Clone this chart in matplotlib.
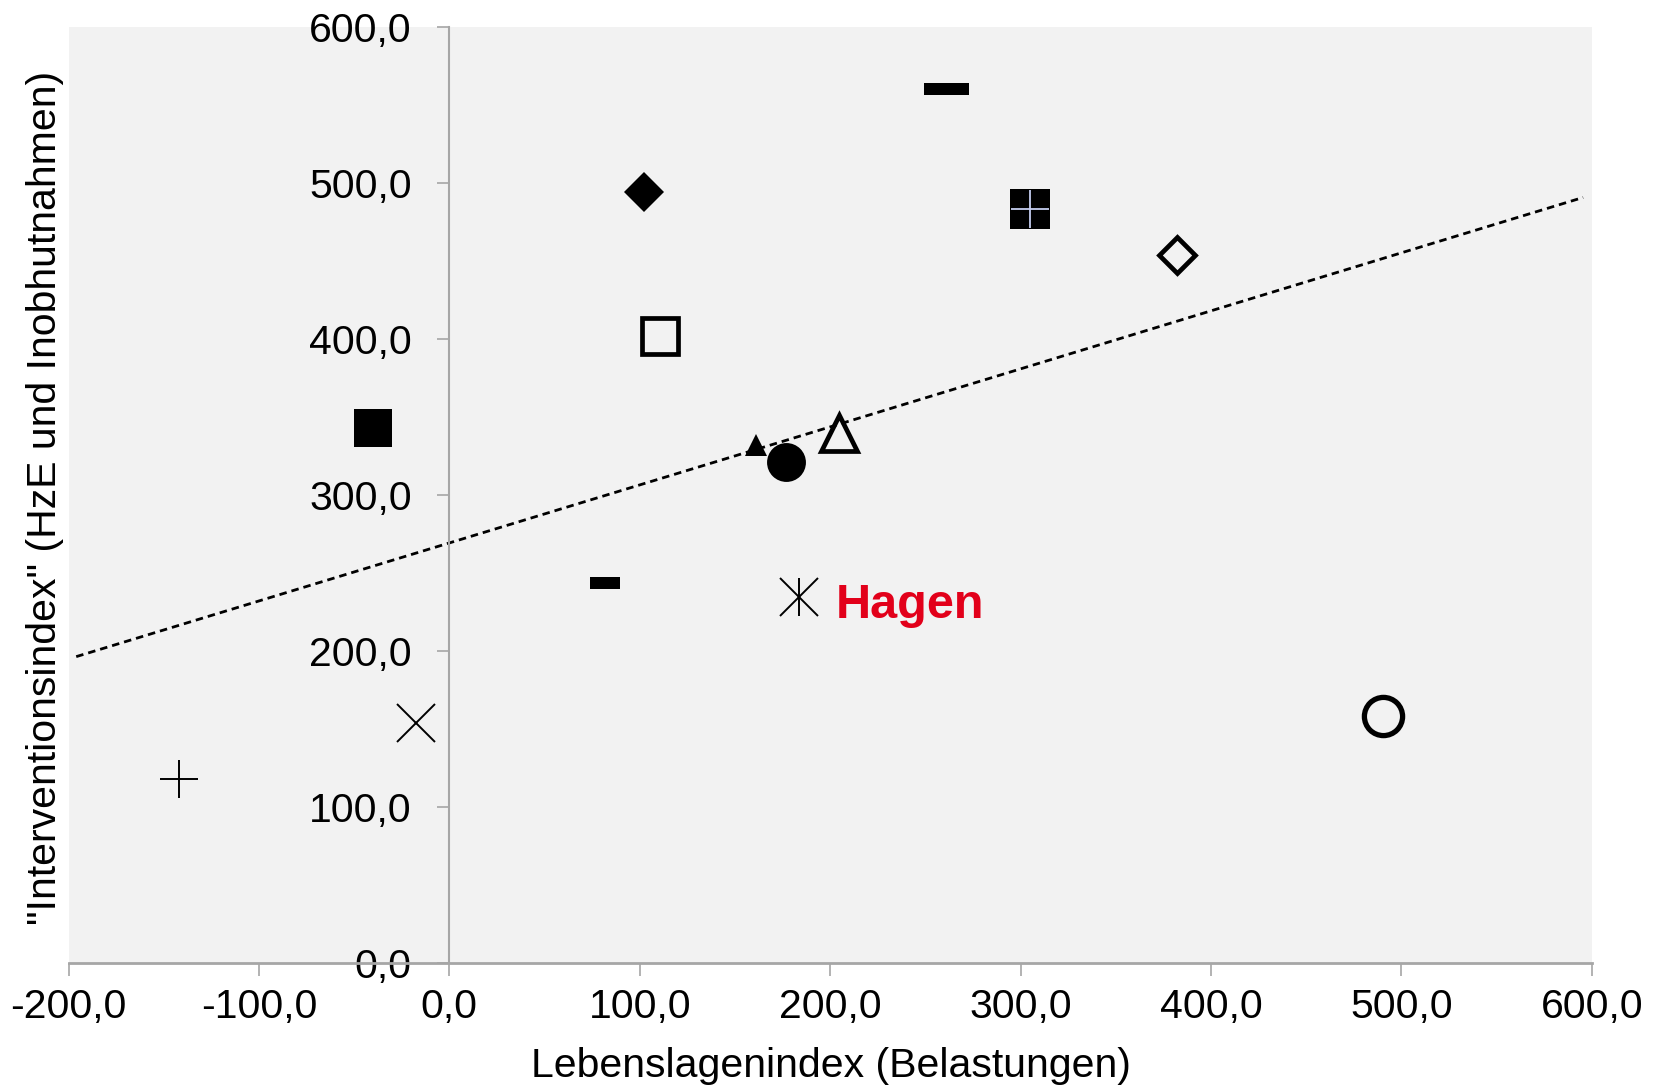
import matplotlib
matplotlib.use("Agg")
import matplotlib.pyplot as plt
import numpy as np

plt.rcParams['font.family'] = ['Liberation Sans', 'DejaVu Sans']

# ---- data ----
city_x = [-142.1, -17.6, -39.9, 81.5, 102.3, 110.5, 160.9, 176.9,
          183.5, 204.8, 260.6, 305.1, 382.0, 490.5]
city_y = [118.1, 154.0, 342.7, 243.8, 494.2, 401.7, 332.4, 321.0,
          234.3, 339.8, 560.7, 483.3, 453.7, 158.4]
highlight_name = "Hagen"
highlight_index = 8

trend_x = [-196.0, 595.5]
trend_y = [196.3, 490.9]

x_ticks = [-200, -100, 0, 100, 200, 300, 400, 500, 600]
y_ticks = [0, 100, 200, 300, 400, 500, 600]
x_label = "Lebenslagenindex (Belastungen)"
y_label = '"Interventionsindex" (HzE und Inobhutnahmen)'

# ---- styles ----
BG = '#f2f2f2'
AX = '#a6a6a6'
RED = '#e2001a'
small_dash = [(-1, -0.43), (1, -0.43), (1, 0.43), (-1, 0.43), (-1, -0.43)]
long_dash = [(-1, -0.27), (1, -0.27), (1, 0.27), (-1, 0.27), (-1, -0.27)]

# each entry: list of (marker, ms, facecolor, edgecolor, edgewidth)
styles = [
    [('+', 27.5, 'k', 'k', 1.4)],
    [('x', 27.5, 'k', 'k', 1.4)],
    [('s', 28, 'k', 'k', 0)],
    [(small_dash, 21.2, 'k', 'k', 0)],
    [('D', 20.4, 'k', 'k', 0)],
    [('s', 26.5, 'none', 'k', 3.4)],
    [('^', 16, 'k', 'k', 0)],
    [('o', 28, 'k', 'k', 0)],
    [('|', 28, 'k', 'k', 1.4), ('x', 28, 'k', 'k', 1.4)],
    [('^', 25.5, 'none', 'k', 3.4)],
    [(long_dash, 32.4, 'k', 'k', 0)],
    [('s', 29.5, 'k', 'k', 0), ('+', 27, '#c5cdf0', '#c5cdf0', 1.3)],
    [('D', 18.0, 'none', 'k', 3.4)],
    [('o', 27.5, 'none', 'k', 3.8)],
]

fig = plt.figure(figsize=(16.55, 10.9), dpi=100)
ax = fig.add_axes([0.04145, 0.11688, 0.92030, 0.85798])
ax.set_facecolor(BG)
ax.set_xlim(-200, 600)
ax.set_ylim(0, 600)

for s in ['top', 'right']:
    ax.spines[s].set_visible(False)
ax.spines['left'].set_position(('data', 0))
for s in ['left', 'bottom']:
    ax.spines[s].set_color(AX)
    ax.spines[s].set_linewidth(1.5)
ax.spines['bottom'].set_linewidth(2.0)

ax.plot(trend_x, trend_y, linestyle=(0, (2.7, 1.8)), color='k', lw=2.0, zorder=2)

for i, (x, y) in enumerate(zip(city_x, city_y)):
    for (m, ms, fc, ec, ew) in styles[i]:
        ax.plot([x], [y], linestyle='none', marker=m, markersize=ms,
                markerfacecolor=fc, markeredgecolor=ec, markeredgewidth=ew,
                zorder=3, clip_on=False)

ax.annotate(highlight_name, (city_x[highlight_index], city_y[highlight_index]),
            xytext=(26.5, -14.5), textcoords='offset points', ha='left', va='baseline',
            color=RED, fontsize=35, fontweight='bold')

def fmt(v):
    return f"{v:.1f}".replace('.', ',')

ax.set_xticks(x_ticks)
ax.set_xticklabels([fmt(v) for v in x_ticks])
ax.set_yticks(y_ticks)
ax.set_yticklabels([fmt(v) for v in y_ticks])
ax.tick_params(axis='x', direction='out', length=9.5, width=1.2, color=AX,
               labelsize=29.5, pad=9, labelcolor='k')
ax.tick_params(axis='y', direction='out', length=9, width=1.2, color=AX,
               labelsize=29.5, pad=18, labelcolor='k')

fig.text(0.502, 0.022, x_label, ha='center', va='center', fontsize=29.5)
fig.text(0.027, 0.543, y_label, ha='center', va='center', rotation=90, fontsize=29.5)

fig.savefig('out.png', dpi=100, facecolor='white')
